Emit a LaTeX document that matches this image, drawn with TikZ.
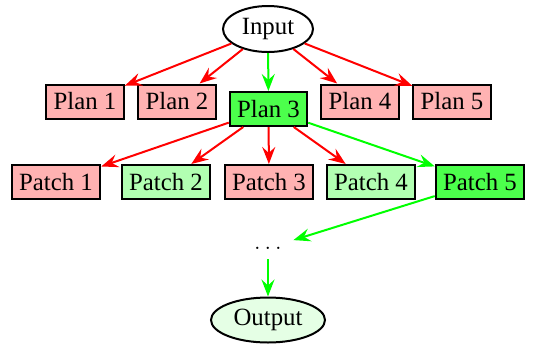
\documentclass[tikz,border=0pt]{standalone}
\usepackage{fontspec}
\setmainfont{Liberation Serif}
\usepackage{tikz}
\usetikzlibrary{arrows.meta}
\usetikzlibrary{shapes.geometric}

\begin{document}
\begin{tikzpicture}[x=0.5pt, y=-0.5pt,
    every node/.style={font=\fontsize{12.4}{15}\selectfont},
    box/.style={draw=black, line width=1pt, rectangle, inner xsep=3.7pt, inner ysep=0pt, minimum height=17pt},
    redbox/.style={box, fill=red!30},
    lightbox/.style={box, fill=green!30},
    pickbox/.style={box, fill=green!70},
    oval/.style={draw=black, line width=1pt, ellipse, inner sep=0pt},
    redarrow/.style={draw=red, line width=1pt, -{Stealth[length=8.5pt, width=6.5pt, inset=3pt]}},
    greenarrow/.style={draw=green, line width=1pt, -{Stealth[length=8.5pt, width=6.5pt, inset=3pt]}}]
    \useasboundingbox (0,0) rectangle (537,345);

    % Top: input
    \node[oval, minimum width=45pt, minimum height=23pt] (input) at (268,29) {Input};

    % Row 1: plans
    \node[redbox] (plan1) at (85,101.5) {Plan 1};
    \node[redbox] (plan2) at (177,101.5) {Plan 2};
    \node[pickbox] (plan3) at (268.5,109) {Plan 3};
    \node[redbox] (plan4) at (360,101.5) {Plan 4};
    \node[redbox] (plan5) at (452,101.5) {Plan 5};

    \draw[redarrow] (input) -- (plan1);
    \draw[redarrow] (input) -- (plan2);
    \draw[greenarrow] (input) -- (plan3);
    \draw[redarrow] (input) -- (plan4);
    \draw[redarrow] (input) -- (plan5);

    % Row 2: patches
    \node[redbox] (patch1) at (56,182) {Patch 1};
    \node[lightbox] (patch2) at (166,182) {Patch 2};
    \node[redbox] (patch3) at (269,182) {Patch 3};
    \node[lightbox] (patch4) at (371,182) {Patch 4};
    \node[pickbox] (patch5) at (480,182) {Patch 5};

    \draw[redarrow] (plan3) -- (patch1);
    \draw[redarrow] (plan3) -- (patch2);
    \draw[redarrow] (plan3) -- (patch3);
    \draw[redarrow] (plan3) -- (patch4);
    \draw[greenarrow] (plan3) -- (patch5);

    % Bottom: dots and output
    \node[minimum width=25pt, minimum height=11pt, inner sep=0pt] (dots) at (268,248) {$\dots$};
    \node[oval, fill=green!10, minimum width=57pt, minimum height=22.5pt] (output) at (268,320) {Output};

    \draw[greenarrow] (patch5) -- (dots);
    \draw[greenarrow] (dots) -- (output);
\end{tikzpicture}
\end{document}
